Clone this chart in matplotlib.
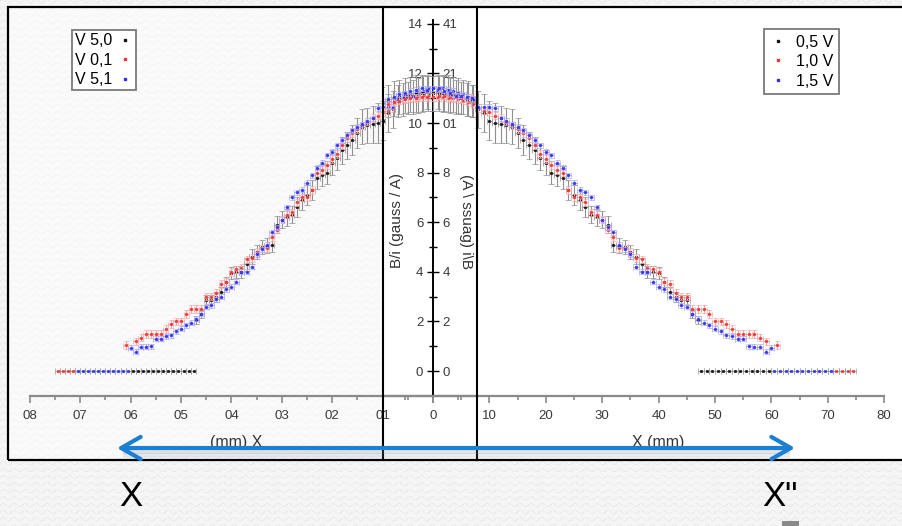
import numpy as np
import matplotlib
matplotlib.use("Agg")
import matplotlib.pyplot as plt
from matplotlib import font_manager
from matplotlib.lines import Line2D
from matplotlib.patches import Rectangle, FancyArrowPatch

# ---------------------------------------------------------------- data
# B/i profile (gauss / A) versus position X (mm) for three coil voltages
labels = ["0,5 V", "1,0 V", "1,5 V"]
labels_mirror = ["V 5,0", "V 0,1", "V 5,1"]

pos_05 = list(range(-9, 48))
val_05 = [10.8, 10.9, 11.0, 11.05, 11.1, 11.15, 11.2, 11.2, 11.25, 11.2, 11.2, 11.2, 11.1, 11.05, 11.0, 10.95, 10.9,
          10.55, 10.4, 10.1, 10.0, 9.95, 9.9, 9.85,
          9.6, 9.3, 9.1, 8.9, 8.6, 8.4,
          8.0, 7.9, 7.8, 7.3, 7.1, 6.9, 6.6, 6.3, 6.2, 6.1,
          5.9, 5.1, 5.05, 5.0, 4.8, 4.6, 4.3,
          4.0, 4.0, 3.95, 3.6, 3.2, 3.0, 2.85, 2.85, 2.3, 2.05]
err_05 = [0.65, 0.65, 0.7, 0.7, 0.7, 0.7, 0.75, 0.75, 0.7, 0.7, 0.7, 0.7, 0.7, 0.7, 0.65, 0.65, 0.65,
          0.75, 0.75, 0.8, 0.8, 0.75, 0.7, 0.7,
          0.6, 0.6, 0.55, 0.55, 0.5, 0.5,
          0.45, 0.45, 0.45, 0.4, 0.4, 0.4, 0.4, 0.35, 0.35, 0.35,
          0.35, 0.3, 0.3, 0.3, 0.3, 0.3, 0.25,
          0.25, 0.25, 0.25, 0.2, 0.2, 0.2, 0.2, 0.2, 0.15, 0.15]

pos_10 = list(range(-9, 60)) + [61]
val_10 = [10.6, 10.75, 10.85, 10.9, 10.95, 11.0, 11.0, 11.05, 11.05, 11.05, 11.1, 11.1, 11.05, 11.05, 11.0, 11.0, 11.0,
          10.6, 10.5, 10.45, 10.3, 10.2, 10.05, 9.9,
          9.75, 9.6, 9.4, 9.1, 8.75, 8.55,
          8.3, 8.1, 8.0, 7.3, 7.0, 7.0, 6.8, 6.4, 6.3, 6.1,
          5.7, 5.4, 4.95, 4.95, 4.8, 4.55, 4.5,
          4.15, 4.1, 4.0, 3.6, 3.5, 3.15, 3.0, 3.0, 2.5, 2.5,
          2.5, 2.3, 2.0, 2.0, 1.9, 1.7, 1.5, 1.5, 1.5, 1.5, 1.35, 1.2,
          1.05]

pos_15 = list(range(-9, 61))
val_15 = [10.85, 10.95, 11.05, 11.15, 11.2, 11.3, 11.35, 11.4, 11.35, 11.4, 11.4, 11.3, 11.2, 11.1, 11.1, 11.05, 11.0,
          10.65, 10.65, 10.65, 10.6, 10.2, 10.1, 9.95,
          9.85, 9.7, 9.5, 9.3, 9.1, 8.85,
          8.7, 8.4, 8.2, 7.9, 7.6, 7.3, 7.2, 7.0, 6.6, 6.1,
          5.8, 5.6, 5.1, 4.9, 4.7, 4.2, 4.0,
          4.0, 3.6, 3.4, 3.3, 3.0, 2.9, 2.65, 2.6, 2.3, 2.1,
          1.95, 1.85, 1.7, 1.6, 1.45, 1.4, 1.3, 1.3, 1.0, 0.97, 0.97, 0.77, 0.93]

# positions where no field was detected
zero_pos_05 = [47.5, 48.5, 49.5, 50.5, 51.5, 52.5, 53.5, 54.5, 55.5, 56.5, 57.5, 58.5, 59.5]
zero_pos_15 = [60.5, 61.5, 62.5, 63.5, 64.5, 65.5, 66.5, 67.5, 68.5, 69.5, 70.5]
zero_pos_10 = [71.5, 72.5, 73.5, 74.5]

x_ticks = [0, 10, 20, 30, 40, 50, 60, 70, 80]
x_ticklabels = ["0", "10", "20", "30", "40", "50", "60", "70", "80"]
x_ticklabels_mirror = ["", "01", "02", "03", "04", "05", "06", "07", "08"]
y_ticks = [0, 2, 4, 6, 8, 10, 12, 14]
y_ticklabels = ["0", "2", "4", "6", "8", "10", "12", "14"]
y_ticklabels_mirror = ["0", "2", "4", "6", "8", "01", "21", "41"]

colors = ["#151515", "#ff3030", "#3030ff"]
ecolors = ["#8f8f8f", "#f3a8a8", "#a8a8f3"]

# ---------------------------------------------------------------- fonts
names = {f.name for f in font_manager.fontManager.ttflist}
SANS = "Liberation Sans" if "Liberation Sans" in names else "DejaVu Sans"
NARROW = "Liberation Sans Narrow" if "Liberation Sans Narrow" in names else SANS

# ---------------------------------------------------------------- figure
W, H = 902, 526
fig = plt.figure(figsize=(W / 100, H / 100), dpi=100)
fig.patch.set_facecolor("#f3f3f3")

# light wavy paper texture behind everything
yy, xx = np.mgrid[0:H, 0:W]
phase = (yy + 1.6 * np.sin(2 * np.pi * xx / 11.0)) % 7.0
tone = np.where(phase < 1.3, 0.925, 0.962)
fig.figimage(np.dstack([tone, tone, tone]), xo=0, yo=0, origin="upper", zorder=0)


def fx(px):
    return px / W


def fy(py):
    return 1 - py / H


# panel backgrounds and frame
fig.add_artist(Rectangle((fx(8), fy(460)), fx(383) - fx(8), fy(7) - fy(460),
                         transform=fig.transFigure, facecolor="white", alpha=0.55,
                         edgecolor="none", zorder=1))
fig.add_artist(Rectangle((fx(383), fy(460)), fx(915) - fx(383), fy(7) - fy(460),
                         transform=fig.transFigure, facecolor="white", edgecolor="none", zorder=1))
fig.add_artist(Rectangle((fx(8), fy(460)), fx(915) - fx(8), fy(7) - fy(460),
                         transform=fig.transFigure, facecolor="none", edgecolor="black",
                         linewidth=1.6, zorder=10))
for xl in (383, 477):
    fig.add_artist(Line2D([fx(xl), fx(xl)], [fy(7), fy(460)], transform=fig.transFigure,
                          color="black", linewidth=1.5, zorder=10))

# y scale shared by both panels (px per unit and px of zero)
Y0, YS = 371, 24.8
X0 = 433
ylim = ((Y0 - 460) / YS, (Y0 - 7) / YS)


def make_axes(px0, px1, xlim):
    ax = fig.add_axes([fx(px0), fy(460), fx(px1) - fx(px0), fy(7) - fy(460)])
    ax.set_xlim(*xlim)
    ax.set_ylim(*ylim)
    ax.patch.set_visible(False)
    ax.set_zorder(5)
    return ax


def draw_data(ax):
    kw = dict(fmt="s", ms=1.9, mew=0.5, elinewidth=0.8, capthick=0.8)
    ax.errorbar(pos_05, val_05, yerr=err_05, xerr=0.5, color=colors[0], ecolor=ecolors[0],
                capsize=2.2, zorder=3, **kw)
    ax.errorbar(pos_10, val_10, yerr=0.15, xerr=0.5, color=colors[1], ecolor=ecolors[1],
                capsize=1.8, zorder=4, **kw)
    ax.errorbar(pos_15, val_15, yerr=0.1, xerr=0.5, color=colors[2], ecolor=ecolors[2],
                capsize=1.8, zorder=5, **kw)
    for zp, c in ((zero_pos_05, 0), (zero_pos_15, 2), (zero_pos_10, 1)):
        ax.errorbar(zp, [0] * len(zp), xerr=0.5, fmt="s", ms=1.7, mew=0.5, color=colors[c],
                    ecolor="#9a9a9a", elinewidth=0.8, capsize=2.2, capthick=0.8, zorder=4)


def style_axes(ax, yside, xlabels, ylabels, xbounds):
    for s in ("top", "left", "right"):
        if s != yside:
            ax.spines[s].set_visible(False)
    ax.spines[yside].set_position(("data", 0))
    ax.spines[yside].set_bounds(-1.0, 14.15)
    ax.spines[yside].set_linewidth(1.2)
    ax.spines["bottom"].set_position(("data", -1.0))
    ax.spines["bottom"].set_bounds(*xbounds)
    ax.spines["bottom"].set_color("#8a8a8a")
    ax.spines["bottom"].set_linewidth(1.6)

    ax.set_xticks(x_ticks)
    ax.set_xticklabels(xlabels, fontfamily=NARROW, fontsize=9.5, color="#3a3a3a")
    ax.set_xticks([-5, 5, 15, 25, 35, 45, 55, 65, 75], minor=True)
    ax.tick_params(axis="x", which="major", direction="out", length=5, width=1.2,
                   color="#8a8a8a", pad=5)
    ax.tick_params(axis="x", which="minor", direction="out", length=3, width=1.2, color="#8a8a8a")

    if yside == "right":
        ax.yaxis.tick_right()
    ax.set_yticks(y_ticks)
    ax.set_yticklabels(ylabels, fontfamily=NARROW, fontsize=9.5, color="#3a3a3a")
    ax.set_yticks([1, 3, 5, 7, 9, 11, 13], minor=True)
    ax.tick_params(axis="y", which="major", direction="out", length=4, width=1.0, pad=3)
    ax.tick_params(axis="y", which="minor", direction="out", length=3, width=1.0)


# mirrored copy of the profile (left), original profile (right)
ax_l = make_axes(8, 477, ((X0 - 8) / 5.04, (X0 - 477) / 5.04))
ax_r = make_axes(383, 902, ((383 - X0) / 5.64, (902 - X0) / 5.64))
for ax in (ax_l, ax_r):
    draw_data(ax)
style_axes(ax_l, "right", x_ticklabels_mirror, y_ticklabels_mirror, (-8.7, 80))
style_axes(ax_r, "left", x_ticklabels, y_ticklabels, (-8.8, 80))

# legends
handles = [Line2D([], [], ls="none", marker="s", ms=2.0, color=c) for c in colors]
leg_kw = dict(loc="upper left", bbox_transform=fig.transFigure, frameon=True, fancybox=False,
              framealpha=1, edgecolor="#7a7a7a", borderaxespad=0, labelspacing=0.28,
              prop={"family": NARROW, "size": 11.5})
leg_r = ax_r.legend(handles, labels, bbox_to_anchor=(fx(764), fy(29)), handlelength=1.1,
                    handletextpad=0.55, borderpad=0.35, **leg_kw)
leg_l = ax_l.legend(handles, labels_mirror, bbox_to_anchor=(fx(72), fy(30)), markerfirst=False,
                    handlelength=1.0, handletextpad=0.3, borderpad=0.2, **leg_kw)
for leg in (leg_r, leg_l):
    leg.get_frame().set_linewidth(1.3)
    leg.get_frame().set_facecolor("white")

# axis titles
fig.text(fx(658), fy(443), "X (mm)", family=NARROW, fontsize=11.5, color="#333333",
         ha="center", va="center", zorder=6)
fig.text(fx(236), fy(443), "(mm) X", family=NARROW, fontsize=11.5, color="#333333",
         ha="center", va="center", zorder=6)
fig.text(fx(397), fy(220), "B/i (gauss / A)", family=SANS, fontsize=11, color="#333333",
         rotation=90, ha="center", va="center", zorder=6)
fig.text(fx(466), fy(222), "(A \\ ssuag) i\\B", family=SANS, fontsize=11, color="#333333",
         rotation=-90, ha="center", va="center", zorder=6)

# double arrow between the two edge positions, with a soft drop shadow
for dy, a in ((4, 0.22), (7, 0.14), (10, 0.08)):
    fig.add_artist(Line2D([fx(125), fx(788)], [fy(448 + dy), fy(448 + dy)], transform=fig.transFigure,
                          color="#7d8896", alpha=a, linewidth=3, zorder=11))
fig.add_artist(FancyArrowPatch((fx(117), fy(448)), (fx(795), fy(448)), transform=fig.transFigure,
                               arrowstyle="<->,head_length=14,head_width=8", color="#1b7fd2",
                               linewidth=3.0, capstyle="round", joinstyle="round",
                               shrinkA=0, shrinkB=0, zorder=12))

fig.text(fx(131), fy(497), "X", family=SANS, fontsize=25, color="black", ha="center", va="center")
fig.text(fx(762), fy(497), "X\"", family=SANS, fontsize=25, color="black", ha="left", va="center")
fig.add_artist(Rectangle((fx(782), fy(530)), fx(799) - fx(782), fy(521) - fy(530),
                         transform=fig.transFigure, facecolor="#8a8a8a", edgecolor="none"))

fig.savefig("out.png", dpi=100, facecolor=fig.get_facecolor())
